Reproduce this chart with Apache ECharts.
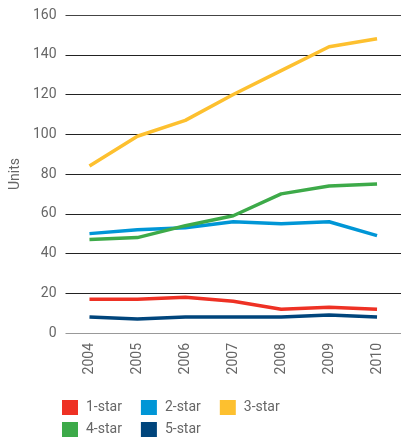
<!DOCTYPE html>
<html>
<head>
<meta charset="utf-8">
<script src="https://cdn.jsdelivr.net/npm/echarts@6/dist/echarts.min.js"></script>
<style>
  html, body { margin: 0; padding: 0; background: #fff; }
  #chart { width: 401px; height: 441px; }
</style>
</head>
<body>
<div id="chart"></div>
<script>
// Hotel units by star rating, 2004-2010
const years = ['2004', '2005', '2006', '2007', '2008', '2009', '2010'];
const oneStar = [17, 17, 18, 16, 12, 13, 12];
const twoStar = [50, 52, 53, 56, 55, 56, 49];
const threeStar = [84, 99, 107, 120, 132, 144, 148];
const fourStar = [47, 48, 54, 59, 70, 74, 75];
const fiveStar = [8, 7, 8, 8, 8, 9, 8];

const seriesNames = ['1-star', '2-star', '3-star', '4-star', '5-star'];
const seriesData = [oneStar, twoStar, threeStar, fourStar, fiveStar];
const colors = ['#EE3124', '#0096D6', '#FDC02F', '#3DAA49', '#00457C'];

const font = 'Roboto, "Open Sans", sans-serif';
const legendCommon = {
  left: 62,
  padding: 0,
  orient: 'horizontal',
  icon: 'rect',
  itemWidth: 16,
  itemHeight: 15,
  itemGap: 19,
  selectedMode: false,
  textStyle: { color: '#666', fontSize: 14, fontFamily: font, padding: [0, 0, 0, 3] }
};

const chart = echarts.init(document.getElementById('chart'), null, { renderer: 'canvas' });
chart.setOption({
  animation: false,
  color: colors,
  grid: { left: 62, right: -2, top: 15, bottom: 108, containLabel: false },
  xAxis: {
    type: 'category',
    data: years,
    boundaryGap: true,
    axisLine: { show: false },
    axisTick: { show: false },
    axisLabel: {
      rotate: 90,
      color: '#666',
      fontSize: 14,
      fontFamily: font,
      margin: 10
    }
  },
  yAxis: {
    type: 'value',
    min: 0,
    max: 160,
    interval: 20,
    name: 'Units',
    nameLocation: 'middle',
    nameGap: 42,
    nameRotate: 90,
    nameTextStyle: { color: '#666', fontSize: 14, fontFamily: font },
    axisLine: { show: false },
    axisTick: { show: false },
    axisLabel: { color: '#666', fontSize: 14, fontFamily: font, margin: 9 },
    splitLine: {
      lineStyle: {
        color: ['#999', '#222', '#222', '#222', '#222', '#222', '#222', '#222', '#444'],
        width: 1.2
      }
    }
  },
  legend: [
    Object.assign({}, legendCommon, { top: 400, data: ['1-star', '2-star', '3-star'] }),
    Object.assign({}, legendCommon, { top: 422, data: ['4-star', '5-star'] })
  ],
  series: seriesNames.map((name, i) => ({
    name: name,
    type: 'line',
    data: seriesData[i],
    symbol: 'none',
    lineStyle: { width: 3.5, color: colors[i] },
    itemStyle: { color: colors[i] }
  }))
});
</script>
</body>
</html>
